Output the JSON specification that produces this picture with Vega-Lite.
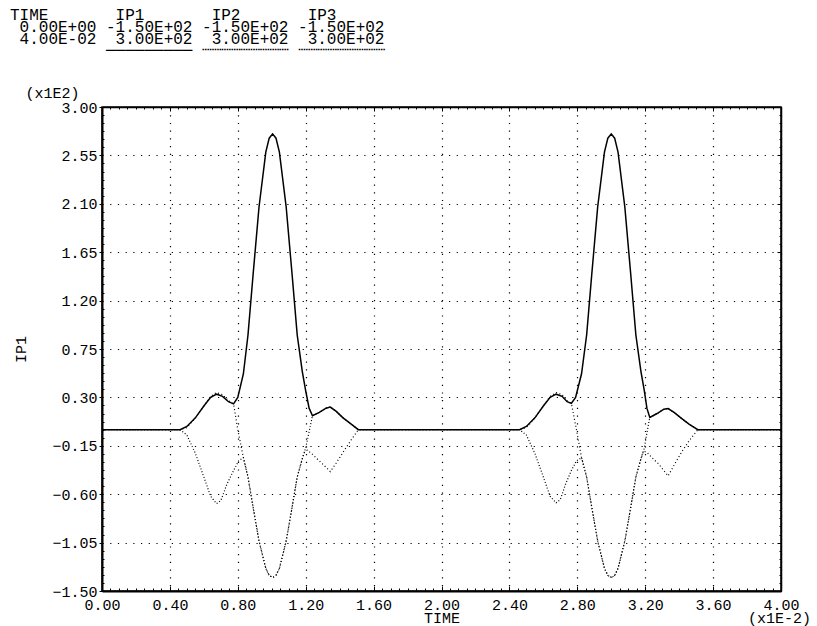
{
  "$schema": "https://vega.github.io/schema/vega-lite/v6.json",
  "width": 679,
  "height": 484,
  "autosize": {"type": "none"},
  "padding": {"left": 102, "top": 107, "right": 36, "bottom": 35},
  "background": "white",
  "config": {
    "view": {"stroke": "black", "strokeWidth": 1.5},
    "axis": {
      "labelFont": "Liberation Mono",
      "labelFontSize": 15,
      "labelColor": "black",
      "titleFont": "Liberation Mono",
      "titleFontSize": 15,
      "titleFontWeight": "normal",
      "titleColor": "black",
      "domainColor": "black",
      "tickColor": "black",
      "labelFlush": false,
      "labelOverlap": false
    }
  },
  "title": {
    "text": [
      "TIME\u00a0\u00a0\u00a0\u00a0\u00a0\u00a0\u00a0IP1\u00a0\u00a0\u00a0\u00a0\u00a0\u00a0\u00a0IP2\u00a0\u00a0\u00a0\u00a0\u00a0\u00a0\u00a0IP3",
      "\u200b\u00a00.00E+00\u00a0-1.50E+02\u00a0-1.50E+02\u00a0-1.50E+02",
      "\u200b\u00a04.00E-02\u00a0\u00a03.00E+02\u00a0\u00a03.00E+02\u00a0\u00a03.00E+02"
    ],
    "subtitle": "\u200b\u00a0\u00a0\u00a0\u00a0\u00a0\u00a0\u00a0\u00a0\u00a0\u00a0─────────\u00a0┈┈┈┈┈┈┈┈┈\u00a0┈┈┈┈┈┈┈┈┈",
    "anchor": "start",
    "frame": "group",
    "dx": -92,
    "offset": 27,
    "font": "Liberation Mono, DejaVu Sans Mono",
    "fontSize": 16,
    "fontWeight": "normal",
    "lineHeight": 12,
    "color": "black",
    "subtitleFont": "Liberation Mono, DejaVu Sans Mono",
    "subtitleFontSize": 16,
    "subtitleColor": "black",
    "subtitlePadding": -5
  },
  "data": {
    "values": [
      {"s": "IP1", "t": 0, "v": 0}, {"s": "IP1", "t": 0.0046, "v": 0}, {"s": "IP1", "t": 0.005, "v": 3}, {"s": "IP1", "t": 0.0055, "v": 11}, {"s": "IP1", "t": 0.006, "v": 22}, {"s": "IP1", "t": 0.0064, "v": 30}, {"s": "IP1", "t": 0.00675, "v": 33}, {"s": "IP1", "t": 0.0071, "v": 31}, {"s": "IP1", "t": 0.00745, "v": 26}, {"s": "IP1", "t": 0.00775, "v": 24}, {"s": "IP1", "t": 0.008, "v": 30}, {"s": "IP1", "t": 0.00833, "v": 52}, {"s": "IP1", "t": 0.0086, "v": 88}, {"s": "IP1", "t": 0.0089, "v": 144}, {"s": "IP1", "t": 0.00925, "v": 207}, {"s": "IP1", "t": 0.00965, "v": 258}, {"s": "IP1", "t": 0.00985, "v": 271}, {"s": "IP1", "t": 0.01005, "v": 275}, {"s": "IP1", "t": 0.01025, "v": 271}, {"s": "IP1", "t": 0.01045, "v": 258}, {"s": "IP1", "t": 0.01085, "v": 207}, {"s": "IP1", "t": 0.0112, "v": 144}, {"s": "IP1", "t": 0.0115, "v": 88}, {"s": "IP1", "t": 0.0118, "v": 54}, {"s": "IP1", "t": 0.012, "v": 36}, {"s": "IP1", "t": 0.0122, "v": 20}, {"s": "IP1", "t": 0.0124, "v": 13}, {"s": "IP1", "t": 0.0128, "v": 16}, {"s": "IP1", "t": 0.0132, "v": 20}, {"s": "IP1", "t": 0.01345, "v": 21}, {"s": "IP1", "t": 0.0138, "v": 17}, {"s": "IP1", "t": 0.0142, "v": 11}, {"s": "IP1", "t": 0.0147, "v": 5}, {"s": "IP1", "t": 0.0151, "v": 0}, {"s": "IP1", "t": 0.0246, "v": 0}, {"s": "IP1", "t": 0.025, "v": 3}, {"s": "IP1", "t": 0.0255, "v": 11}, {"s": "IP1", "t": 0.026, "v": 22}, {"s": "IP1", "t": 0.0264, "v": 30}, {"s": "IP1", "t": 0.02675, "v": 33}, {"s": "IP1", "t": 0.0271, "v": 31}, {"s": "IP1", "t": 0.0274, "v": 26}, {"s": "IP1", "t": 0.02765, "v": 24.4}, {"s": "IP1", "t": 0.0279, "v": 30}, {"s": "IP1", "t": 0.02825, "v": 52}, {"s": "IP1", "t": 0.02855, "v": 88}, {"s": "IP1", "t": 0.02885, "v": 144}, {"s": "IP1", "t": 0.0292, "v": 207}, {"s": "IP1", "t": 0.0296, "v": 258}, {"s": "IP1", "t": 0.0298, "v": 271}, {"s": "IP1", "t": 0.03, "v": 275}, {"s": "IP1", "t": 0.0302, "v": 271}, {"s": "IP1", "t": 0.0304, "v": 258}, {"s": "IP1", "t": 0.0308, "v": 207}, {"s": "IP1", "t": 0.03115, "v": 144}, {"s": "IP1", "t": 0.03145, "v": 88}, {"s": "IP1", "t": 0.03175, "v": 54}, {"s": "IP1", "t": 0.03195, "v": 36}, {"s": "IP1", "t": 0.0321, "v": 20}, {"s": "IP1", "t": 0.03227, "v": 11.4}, {"s": "IP1", "t": 0.0327, "v": 15}, {"s": "IP1", "t": 0.0331, "v": 19}, {"s": "IP1", "t": 0.03335, "v": 19.6}, {"s": "IP1", "t": 0.0337, "v": 16}, {"s": "IP1", "t": 0.0341, "v": 11}, {"s": "IP1", "t": 0.0346, "v": 5}, {"s": "IP1", "t": 0.0351, "v": 0}, {"s": "IP1", "t": 0.04, "v": 0},

      {"s": "IP2", "t": 0, "v": 0}, {"s": "IP2", "t": 0.0046, "v": 0}, {"s": "IP2", "t": 0.005, "v": -5}, {"s": "IP2", "t": 0.0055, "v": -22}, {"s": "IP2", "t": 0.006, "v": -44}, {"s": "IP2", "t": 0.0064, "v": -62}, {"s": "IP2", "t": 0.00675, "v": -68.7}, {"s": "IP2", "t": 0.007, "v": -66}, {"s": "IP2", "t": 0.00735, "v": -51}, {"s": "IP2", "t": 0.00775, "v": -38}, {"s": "IP2", "t": 0.00805, "v": -29}, {"s": "IP2", "t": 0.00833, "v": -26}, {"s": "IP2", "t": 0.0086, "v": -44}, {"s": "IP2", "t": 0.0089, "v": -72}, {"s": "IP2", "t": 0.00925, "v": -103.5}, {"s": "IP2", "t": 0.00965, "v": -129}, {"s": "IP2", "t": 0.00985, "v": -135.5}, {"s": "IP2", "t": 0.01005, "v": -137.5}, {"s": "IP2", "t": 0.01025, "v": -135.5}, {"s": "IP2", "t": 0.01045, "v": -129}, {"s": "IP2", "t": 0.01085, "v": -103.5}, {"s": "IP2", "t": 0.0112, "v": -72}, {"s": "IP2", "t": 0.0115, "v": -44}, {"s": "IP2", "t": 0.0118, "v": -27}, {"s": "IP2", "t": 0.012, "v": -17}, {"s": "IP2", "t": 0.0122, "v": -2}, {"s": "IP2", "t": 0.0124, "v": 13}, {"s": "IP2", "t": 0.0128, "v": 16}, {"s": "IP2", "t": 0.0132, "v": 20}, {"s": "IP2", "t": 0.01345, "v": 21}, {"s": "IP2", "t": 0.0138, "v": 17}, {"s": "IP2", "t": 0.0142, "v": 11}, {"s": "IP2", "t": 0.0147, "v": 5}, {"s": "IP2", "t": 0.0151, "v": 0}, {"s": "IP2", "t": 0.0246, "v": 0}, {"s": "IP2", "t": 0.025, "v": -5}, {"s": "IP2", "t": 0.0255, "v": -22}, {"s": "IP2", "t": 0.026, "v": -44}, {"s": "IP2", "t": 0.0264, "v": -62}, {"s": "IP2", "t": 0.02675, "v": -68}, {"s": "IP2", "t": 0.027, "v": -65}, {"s": "IP2", "t": 0.0273, "v": -51}, {"s": "IP2", "t": 0.02765, "v": -38}, {"s": "IP2", "t": 0.02795, "v": -29}, {"s": "IP2", "t": 0.02825, "v": -26}, {"s": "IP2", "t": 0.02855, "v": -44}, {"s": "IP2", "t": 0.02885, "v": -72}, {"s": "IP2", "t": 0.0292, "v": -103.5}, {"s": "IP2", "t": 0.0296, "v": -129}, {"s": "IP2", "t": 0.0298, "v": -135.5}, {"s": "IP2", "t": 0.03, "v": -137.5}, {"s": "IP2", "t": 0.0302, "v": -135.5}, {"s": "IP2", "t": 0.0304, "v": -129}, {"s": "IP2", "t": 0.0308, "v": -103.5}, {"s": "IP2", "t": 0.03115, "v": -72}, {"s": "IP2", "t": 0.03145, "v": -44}, {"s": "IP2", "t": 0.03175, "v": -27}, {"s": "IP2", "t": 0.03195, "v": -17}, {"s": "IP2", "t": 0.0321, "v": -3}, {"s": "IP2", "t": 0.03227, "v": 11.4}, {"s": "IP2", "t": 0.0327, "v": 15}, {"s": "IP2", "t": 0.0331, "v": 19}, {"s": "IP2", "t": 0.03335, "v": 19.6}, {"s": "IP2", "t": 0.0337, "v": 16}, {"s": "IP2", "t": 0.0341, "v": 11}, {"s": "IP2", "t": 0.0346, "v": 5}, {"s": "IP2", "t": 0.0351, "v": 0}, {"s": "IP2", "t": 0.04, "v": 0},

      {"s": "IP3", "t": 0, "v": 0}, {"s": "IP3", "t": 0.0046, "v": 0}, {"s": "IP3", "t": 0.005, "v": 2}, {"s": "IP3", "t": 0.0055, "v": 11}, {"s": "IP3", "t": 0.006, "v": 22}, {"s": "IP3", "t": 0.0064, "v": 31}, {"s": "IP3", "t": 0.00675, "v": 34.5}, {"s": "IP3", "t": 0.0071, "v": 32.5}, {"s": "IP3", "t": 0.00745, "v": 27}, {"s": "IP3", "t": 0.00775, "v": 24}, {"s": "IP3", "t": 0.008, "v": 0}, {"s": "IP3", "t": 0.00833, "v": -26}, {"s": "IP3", "t": 0.0086, "v": -44}, {"s": "IP3", "t": 0.0089, "v": -72}, {"s": "IP3", "t": 0.00925, "v": -103.5}, {"s": "IP3", "t": 0.00965, "v": -129}, {"s": "IP3", "t": 0.00985, "v": -135.5}, {"s": "IP3", "t": 0.01005, "v": -137.5}, {"s": "IP3", "t": 0.01025, "v": -135.5}, {"s": "IP3", "t": 0.01045, "v": -129}, {"s": "IP3", "t": 0.01085, "v": -103.5}, {"s": "IP3", "t": 0.0112, "v": -72}, {"s": "IP3", "t": 0.0115, "v": -44}, {"s": "IP3", "t": 0.0118, "v": -27}, {"s": "IP3", "t": 0.01195, "v": -20}, {"s": "IP3", "t": 0.0121, "v": -19}, {"s": "IP3", "t": 0.0124, "v": -23}, {"s": "IP3", "t": 0.0128, "v": -29}, {"s": "IP3", "t": 0.0132, "v": -35}, {"s": "IP3", "t": 0.01345, "v": -39}, {"s": "IP3", "t": 0.0138, "v": -31}, {"s": "IP3", "t": 0.0142, "v": -21}, {"s": "IP3", "t": 0.0147, "v": -9}, {"s": "IP3", "t": 0.0151, "v": 0}, {"s": "IP3", "t": 0.0246, "v": 0}, {"s": "IP3", "t": 0.025, "v": 2}, {"s": "IP3", "t": 0.0255, "v": 11}, {"s": "IP3", "t": 0.026, "v": 22}, {"s": "IP3", "t": 0.0264, "v": 31}, {"s": "IP3", "t": 0.02675, "v": 34.5}, {"s": "IP3", "t": 0.0271, "v": 32.5}, {"s": "IP3", "t": 0.0274, "v": 27}, {"s": "IP3", "t": 0.02765, "v": 24.4}, {"s": "IP3", "t": 0.02795, "v": 0}, {"s": "IP3", "t": 0.02825, "v": -26}, {"s": "IP3", "t": 0.02855, "v": -44}, {"s": "IP3", "t": 0.02885, "v": -72}, {"s": "IP3", "t": 0.0292, "v": -103.5}, {"s": "IP3", "t": 0.0296, "v": -129}, {"s": "IP3", "t": 0.0298, "v": -135.5}, {"s": "IP3", "t": 0.03, "v": -137.5}, {"s": "IP3", "t": 0.0302, "v": -135.5}, {"s": "IP3", "t": 0.0304, "v": -129}, {"s": "IP3", "t": 0.0308, "v": -103.5}, {"s": "IP3", "t": 0.03115, "v": -72}, {"s": "IP3", "t": 0.03145, "v": -44}, {"s": "IP3", "t": 0.03175, "v": -27}, {"s": "IP3", "t": 0.0319, "v": -20}, {"s": "IP3", "t": 0.0321, "v": -21}, {"s": "IP3", "t": 0.0324, "v": -26}, {"s": "IP3", "t": 0.0328, "v": -32}, {"s": "IP3", "t": 0.0331, "v": -38}, {"s": "IP3", "t": 0.03335, "v": -43}, {"s": "IP3", "t": 0.0337, "v": -33}, {"s": "IP3", "t": 0.0341, "v": -22}, {"s": "IP3", "t": 0.0346, "v": -10}, {"s": "IP3", "t": 0.0351, "v": 0}, {"s": "IP3", "t": 0.04, "v": 0}
    ]
  },
  "layer": [
    {
      "encoding": {
        "x": {
          "field": "t",
          "type": "quantitative",
          "scale": {"domain": [0, 0.04], "nice": false, "zero": false},
          "axis": {
            "orient": "bottom",
            "values": [0,0.0005,0.001,0.0015,0.002,0.0025,0.003,0.0035,0.004,0.0045,0.005,0.0055,0.006,0.0065,0.007,0.0075,0.008,0.0085,0.009,0.0095,0.01,0.0105,0.011,0.0115,0.012,0.0125,0.013,0.0135,0.014,0.0145,0.015,0.0155,0.016,0.0165,0.017,0.0175,0.018,0.0185,0.019,0.0195,0.02,0.0205,0.021,0.0215,0.022,0.0225,0.023,0.0235,0.024,0.0245,0.025,0.0255,0.026,0.0265,0.027,0.0275,0.028,0.0285,0.029,0.0295,0.03,0.0305,0.031,0.0315,0.032,0.0325,0.033,0.0335,0.034,0.0345,0.035,0.0355,0.036,0.0365,0.037,0.0375,0.038,0.0385,0.039,0.0395,0.04],
            "labelExpr": "abs(datum.value*250-round(datum.value*250))<0.001 ? format(datum.value*100,'.2f') : ''",
            "tickSize": {"condition": {"test": "abs(datum.value*250-round(datum.value*250))<0.001", "value": -5}, "value": -3},
            "labelPadding": 11,
            "grid": true,
            "gridColor": "black",
            "gridWidth": 1.2,
            "gridDash": [1.2, 6.5],
            "gridOpacity": {"condition": {"test": "abs(datum.value*250-round(datum.value*250))<0.001", "value": 1}, "value": 0},
            "domainWidth": 2,
            "title": "TIME",
            "titleX": 339.5,
            "titleY": 26,
            "titleAlign": "center",
            "titleBaseline": "middle"
          }
        },
        "y": {
          "field": "v",
          "type": "quantitative",
          "scale": {"domain": [-150, 300], "nice": false, "zero": false},
          "axis": {
            "orient": "left",
            "values": [-150,-142.5,-135,-127.5,-120,-112.5,-105,-97.5,-90,-82.5,-75,-67.5,-60,-52.5,-45,-37.5,-30,-22.5,-15,-7.5,0,7.5,15,22.5,30,37.5,45,52.5,60,67.5,75,82.5,90,97.5,105,112.5,120,127.5,135,142.5,150,157.5,165,172.5,180,187.5,195,202.5,210,217.5,225,232.5,240,247.5,255,262.5,270,277.5,285,292.5,300],
            "labelExpr": "abs((datum.value+150)/45-round((datum.value+150)/45))<0.001 ? format(datum.value/100,'.2f') : ''",
            "tickSize": {"condition": {"test": "abs((datum.value+150)/45-round((datum.value+150)/45))<0.001", "value": 3}, "value": -2},
            "labelPadding": 2,
            "grid": true,
            "gridColor": "black",
            "gridWidth": 1.2,
            "gridDash": [1.2, 6.5],
            "gridOpacity": {"condition": {"test": "abs((datum.value+150)/45-round((datum.value+150)/45))<0.001", "value": 1}, "value": 0},
            "domainWidth": 2,
            "title": "IP1",
            "titleX": -82,
            "titleY": 242,
            "titleAngle": -90,
            "titleAlign": "center",
            "titleBaseline": "middle"
          }
        }
      },
      "layer": [
        {
          "transform": [{"filter": "datum.s !== 'IP1'"}],
          "mark": {"type": "line", "color": "black", "strokeWidth": 1.2},
          "encoding": {
            "strokeDash": {"field": "s", "type": "nominal", "scale": {"domain": ["IP2", "IP3"], "range": [[1, 2], [1, 2.5]]}, "legend": null}
          }
        },
        {
          "transform": [{"filter": "datum.s === 'IP1'"}],
          "mark": {"type": "line", "color": "black", "strokeWidth": 1.5},
          "encoding": {}
        }
      ]
    },
    {
      "mark": {"type": "line", "opacity": 0},
      "encoding": {
        "detail": {"field": "s", "type": "nominal"},
        "x": {
          "field": "t",
          "type": "quantitative",
          "scale": {"domain": [0, 0.04], "nice": false, "zero": false},
          "axis": {
            "orient": "top",
            "values": [0,0.0005,0.001,0.0015,0.002,0.0025,0.003,0.0035,0.004,0.0045,0.005,0.0055,0.006,0.0065,0.007,0.0075,0.008,0.0085,0.009,0.0095,0.01,0.0105,0.011,0.0115,0.012,0.0125,0.013,0.0135,0.014,0.0145,0.015,0.0155,0.016,0.0165,0.017,0.0175,0.018,0.0185,0.019,0.0195,0.02,0.0205,0.021,0.0215,0.022,0.0225,0.023,0.0235,0.024,0.0245,0.025,0.0255,0.026,0.0265,0.027,0.0275,0.028,0.0285,0.029,0.0295,0.03,0.0305,0.031,0.0315,0.032,0.0325,0.033,0.0335,0.034,0.0345,0.035,0.0355,0.036,0.0365,0.037,0.0375,0.038,0.0385,0.039,0.0395,0.04],
            "labels": false,
            "grid": false,
            "tickSize": {"condition": {"test": "abs(datum.value*250-round(datum.value*250))<0.001", "value": -4}, "value": -2},
            "domainWidth": 1.5,
            "title": "(x1E2)",
            "titleX": -50,
            "titleY": -15,
            "titleAlign": "center",
            "titleBaseline": "middle"
          }
        },
        "y": {
          "field": "v",
          "type": "quantitative",
          "scale": {"domain": [-150, 300], "nice": false, "zero": false},
          "axis": {
            "orient": "right",
            "values": [-150,-142.5,-135,-127.5,-120,-112.5,-105,-97.5,-90,-82.5,-75,-67.5,-60,-52.5,-45,-37.5,-30,-22.5,-15,-7.5,0,7.5,15,22.5,30,37.5,45,52.5,60,67.5,75,82.5,90,97.5,105,112.5,120,127.5,135,142.5,150,157.5,165,172.5,180,187.5,195,202.5,210,217.5,225,232.5,240,247.5,255,262.5,270,277.5,285,292.5,300],
            "labels": false,
            "grid": false,
            "tickSize": {"condition": {"test": "abs((datum.value+150)/45-round((datum.value+150)/45))<0.001", "value": -4}, "value": -2},
            "domainWidth": 1.5,
            "title": "(x1E-2)",
            "titleX": -2,
            "titleY": 510,
            "titleAngle": 0,
            "titleAlign": "center",
            "titleBaseline": "middle"
          }
        }
      }
    }
  ],
  "resolve": {"scale": {"x": "independent", "y": "independent"}}
}
